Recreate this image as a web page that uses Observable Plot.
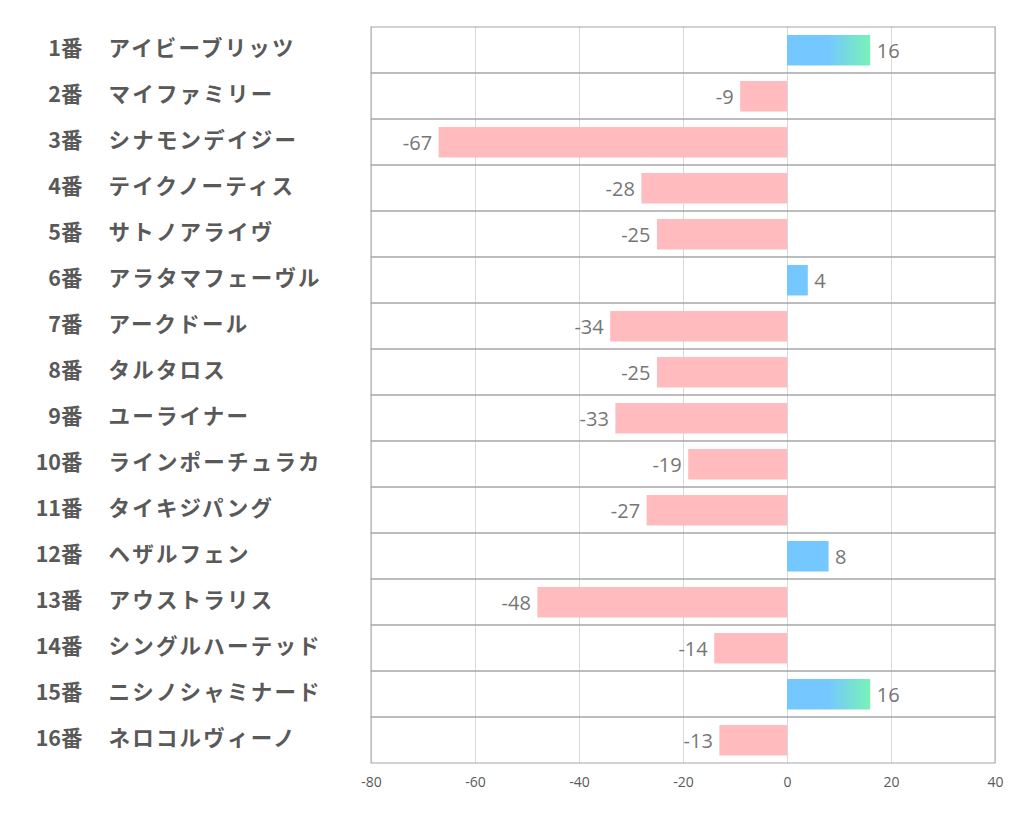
<!DOCTYPE html>
<html>
<head>
<meta charset="utf-8">
<script src="https://cdn.jsdelivr.net/npm/d3@7"></script>
<script src="https://cdn.jsdelivr.net/npm/@observablehq/plot@0.6"></script>
<style>
  html, body { margin: 0; padding: 0; background: #fff; }
  #chart svg { display: block; }
  .names text { letter-spacing: 2.2px; }
</style>
</head>
<body>
<div id="chart"></div>
<script>
const nums = ["1番","2番","3番","4番","5番","6番","7番","8番","9番","10番","11番","12番","13番","14番","15番","16番"];
const names = ["アイビーブリッツ","マイファミリー","シナモンデイジー","テイクノーティス","サトノアライヴ","アラタマフェーヴル","アークドール","タルタロス","ユーライナー","ラインポーチュラカ","タイキジパング","ヘザルフェン","アウストラリス","シングルハーテッド","ニシノシャミナード","ネロコルヴィーノ"];
const values = [16, -9, -67, -28, -25, 4, -34, -25, -33, -19, -27, 8, -48, -14, 16, -13];
const xTicks = [-80, -60, -40, -20, 0, 20, 40];

const rows = nums.map((n, i) => ({num: n, name: names[i], value: values[i]}));

const jpFont = "'Noto Sans CJK JP', sans-serif";
const numFont = "'Open Sans', 'Noto Sans', sans-serif";

const chart = Plot.plot({
  width: 1022,
  height: 834,
  marginLeft: 371,
  marginRight: 27,
  marginTop: 26,
  marginBottom: 71,
  style: {background: "#fff", fontFamily: numFont},
  x: {domain: [-80, 40], ticks: xTicks, label: null},
  y: {domain: nums, padding: 0, axis: null, label: null},
  marks: [
    (index, scales) => {
      const ns = "http://www.w3.org/2000/svg";
      const defs = document.createElementNS(ns, "defs");
      const g = document.createElementNS(ns, "linearGradient");
      g.setAttribute("id", "posGrad");
      g.setAttribute("gradientUnits", "userSpaceOnUse");
      g.setAttribute("x1", scales.x(8));
      g.setAttribute("x2", scales.x(16));
      g.setAttribute("y1", 0);
      g.setAttribute("y2", 0);
      [["0%", "#75C8FF"], ["100%", "#78F2B6"]].forEach(([o, c]) => {
        const s = document.createElementNS(ns, "stop");
        s.setAttribute("offset", o);
        s.setAttribute("stop-color", c);
        g.appendChild(s);
      });
      defs.appendChild(g);
      return defs;
    },
    Plot.ruleX(xTicks, {stroke: "#d9d9d9", strokeWidth: 1}),
    Plot.barX(rows, {x1: -80, x2: 40, y: "num", fill: "none", stroke: "#a6a6a6", strokeWidth: 1}),
    Plot.barX(rows, {filter: d => d.value < 0, x: "value", y: "num", fill: "#FFBBBE", insetTop: 8, insetBottom: 7.5}),
    Plot.barX(rows, {filter: d => d.value >= 0, x: "value", y: "num", fill: "url(#posGrad)", insetTop: 8, insetBottom: 7.5}),
    Plot.text(rows, {filter: d => d.value < 0, x: "value", y: "num", text: d => String(d.value), textAnchor: "end", dx: -7, dy: 1, fontSize: 20, fill: "#767676", fontFamily: numFont}),
    Plot.text(rows, {filter: d => d.value >= 0, x: "value", y: "num", text: d => String(d.value), textAnchor: "start", dx: 6, dy: 1, fontSize: 20, fill: "#767676", fontFamily: numFont}),
    Plot.text(rows, {y: "num", text: "num", frameAnchor: "left", textAnchor: "end", dx: -289, dy: -1, fontSize: 21.5, fontWeight: "bold", fill: "#595959", fontFamily: jpFont}),
    Plot.text(rows, {y: "num", text: "name", frameAnchor: "left", textAnchor: "start", dx: -263, dy: -1, fontSize: 21.5, fontWeight: "bold", fill: "#595959", fontFamily: jpFont, className: "names"}),
    Plot.axisX({ticks: xTicks, tickSize: 0, tickPadding: 14, fontSize: 14, fill: "#595959", label: null, tickFormat: d => String(d), fontFamily: numFont})
  ]
});
document.getElementById("chart").appendChild(chart);
</script>
</body>
</html>
